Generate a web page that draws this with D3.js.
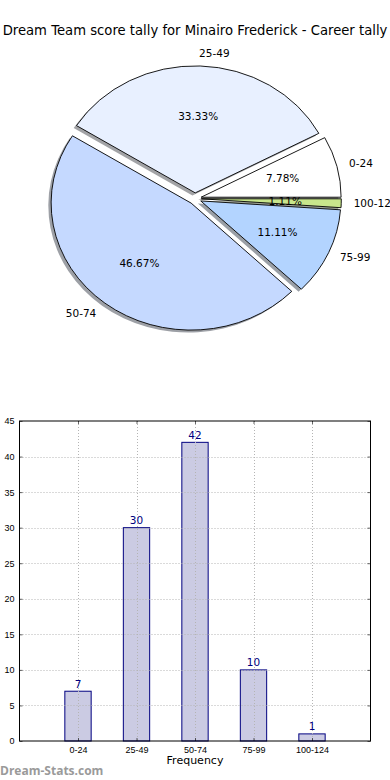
<!DOCTYPE html>
<html><head><meta charset="utf-8">
<script src="https://cdn.jsdelivr.net/npm/d3@7"></script>
<style>body{margin:0;background:#fff}svg{display:block}</style>
</head><body>
<script>
const categories = ["0-24", "25-49", "50-74", "75-99", "100-124"];
const counts = [7, 30, 42, 10, 1];
const pieColors = ["#ffffff", "#e8f0ff", "#c5d9ff", "#b3d4ff", "#c8e68c"];
const yTicks = [0, 5, 10, 15, 20, 25, 30, 35, 40, 45];
const title = "Dream Team score tally for Minairo Frederick - Career tally";

const W = 390, H = 780;
const svg = d3.select("body").append("svg").attr("width", W).attr("height", H)
  .style("font-family", "'DejaVu Sans', sans-serif");

svg.append("text").attr("x", 195).attr("y", 35).attr("text-anchor", "middle")
  .attr("font-size", 13.2).attr("fill", "#000").text(title);

// ---- Pie (matplotlib style, counter-clockwise from 0 deg, exploded, shadow) ----
const cx = 195, cy = 198.6, rx = 140, ry = 127, ex = 0.045;
const total = d3.sum(counts);
const pieGen = d3.pie().sort(null).startAngle(0).endAngle(2 * Math.PI);
const slices = pieGen(counts).map((p, i) => {
  const t1 = p.startAngle, t2 = p.endAngle; // math angles (ccw)
  const mid = (t1 + t2) / 2;
  return {
    i, t1, t2, mid,
    ox: cx + ex * rx * Math.cos(mid),
    oy: cy - ex * ry * Math.sin(mid)
  };
});
const arc = d3.arc().innerRadius(0).outerRadius(1);
function wedgePath(s) {
  return arc({startAngle: Math.PI / 2 - s.t2, endAngle: Math.PI / 2 - s.t1});
}
const pieG = svg.append("g");
// shadows
slices.forEach(s => {
  const c = d3.rgb(pieColors[s.i]);
  pieG.append("path")
    .attr("d", wedgePath(s))
    .attr("transform", `translate(${s.ox - 2.8},${s.oy + 2.5}) scale(${rx},${ry})`)
    .attr("fill", d3.rgb(c.r * 0.3, c.g * 0.3, c.b * 0.3))
    .attr("fill-opacity", 0.5)
    .attr("stroke", "none");
});
slices.forEach(s => {
  pieG.append("path")
    .attr("d", wedgePath(s))
    .attr("transform", `translate(${s.ox},${s.oy}) scale(${rx},${ry})`)
    .attr("fill", pieColors[s.i])
    .attr("stroke", "#000").attr("stroke-width", 0.9)
    .attr("vector-effect", "non-scaling-stroke")
    .attr("stroke-linejoin", "miter");
});
// labels
slices.forEach(s => {
  const lx = s.ox + 1.1 * rx * Math.cos(s.mid);
  const ly = s.oy - 1.1 * ry * Math.sin(s.mid);
  pieG.append("text").attr("x", lx - (Math.cos(s.mid) > 0 ? 1.5 : 0)).attr("y", ly).attr("dy", "0.35em")
    .attr("text-anchor", Math.cos(s.mid) > 0 ? "start" : "end")
    .attr("font-size", 10.5).attr("fill", "#000").text(categories[s.i]);
  const px = s.ox + 0.6 * rx * Math.cos(s.mid);
  const py = s.oy - 0.6 * ry * Math.sin(s.mid);
  pieG.append("text").attr("x", px).attr("y", py).attr("dy", "0.35em")
    .attr("text-anchor", "middle").attr("font-size", 10.5).attr("fill", "#000")
    .text((counts[s.i] / total * 100).toFixed(2) + "%");
});

// ---- Bar chart ----
const x0 = 19.5, x1 = 370.5, yTop = 421, yBot = 741;
const x = d3.scaleLinear().domain([-1, 5]).range([x0, x1]);
const y = d3.scaleLinear().domain([0, 45]).range([yBot, yTop]);
const bw = x(0.45) - x(0);
const g = svg.append("g");

g.selectAll("rect.bar").data(counts).join("rect").attr("class", "bar")
  .attr("x", (d, i) => x(i) - bw / 2).attr("width", bw)
  .attr("y", d => y(d)).attr("height", d => y(0) - y(d))
  .attr("fill", "#cbcbe3").attr("stroke", "#000080").attr("stroke-width", 1);

// grid (drawn above bars, matplotlib default)
const grid = g.append("g").attr("stroke", "#b4b4b4").attr("stroke-width", 1)
  .attr("stroke-dasharray", "1,2");
yTicks.slice(1, -1).forEach(t => grid.append("line")
  .attr("x1", x0).attr("x2", x1).attr("y1", Math.round(y(t)) + 0.5).attr("y2", Math.round(y(t)) + 0.5));
categories.forEach((c, i) => grid.append("line")
  .attr("x1", Math.round(x(i)) + 0.5).attr("x2", Math.round(x(i)) + 0.5).attr("y1", yTop).attr("y2", yBot));

// value labels
g.selectAll("text.val").data(counts).join("text").attr("class", "val")
  .attr("x", (d, i) => x(i)).attr("y", d => y(d) - 3.5)
  .attr("text-anchor", "middle").attr("font-size", 10.5).attr("fill", "#000080")
  .text(d => d);

// axes frame
g.append("rect").attr("x", x0).attr("y", yTop).attr("width", x1 - x0).attr("height", yBot - yTop)
  .attr("fill", "none").attr("stroke", "#000").attr("stroke-width", 1);

// axes with d3 (inside ticks)
const yAxis = d3.axisLeft(y).tickValues(yTicks).tickSize(-3).tickPadding(5);
const yAx = g.append("g").attr("transform", `translate(${x0},0)`).call(yAxis);
const xAxis = d3.axisBottom(x).tickValues(d3.range(categories.length))
  .tickFormat(i => categories[i]).tickSize(-3).tickPadding(6);
const xAx = g.append("g").attr("transform", `translate(0,${yBot})`).call(xAxis);
[yAx, xAx].forEach(a => {
  a.select(".domain").remove();
  a.selectAll(".tick line").attr("stroke", "#000").attr("stroke-width", 0.6);
  a.selectAll("text").attr("font-family", "'Liberation Sans', Arial, sans-serif")
    .attr("font-size", 9).attr("fill", "#000");
});
g.append("g").attr("transform", `translate(${x1},0)`).call(d3.axisRight(y).tickValues(yTicks).tickSize(-3).tickFormat(""))
  .call(a => { a.select(".domain").remove(); a.selectAll(".tick line").attr("stroke", "#000").attr("stroke-width", 0.6); });
g.append("g").attr("transform", `translate(0,${yTop})`).call(d3.axisTop(x).tickValues(d3.range(categories.length)).tickSize(-3).tickFormat(""))
  .call(a => { a.select(".domain").remove(); a.selectAll(".tick line").attr("stroke", "#000").attr("stroke-width", 0.6); });

svg.append("text").attr("x", 195).attr("y", 764).attr("text-anchor", "middle")
  .attr("font-size", 11).attr("fill", "#000").text("Frequency");

svg.append("text").attr("x", 0).attr("y", 775).attr("font-size", 12)
  .attr("font-weight", "bold").attr("fill", "#9a9a9a")
  .attr("font-family", "'Open Sans', 'DejaVu Sans', sans-serif").text("Dream-Stats.com");
</script>
</body></html>
